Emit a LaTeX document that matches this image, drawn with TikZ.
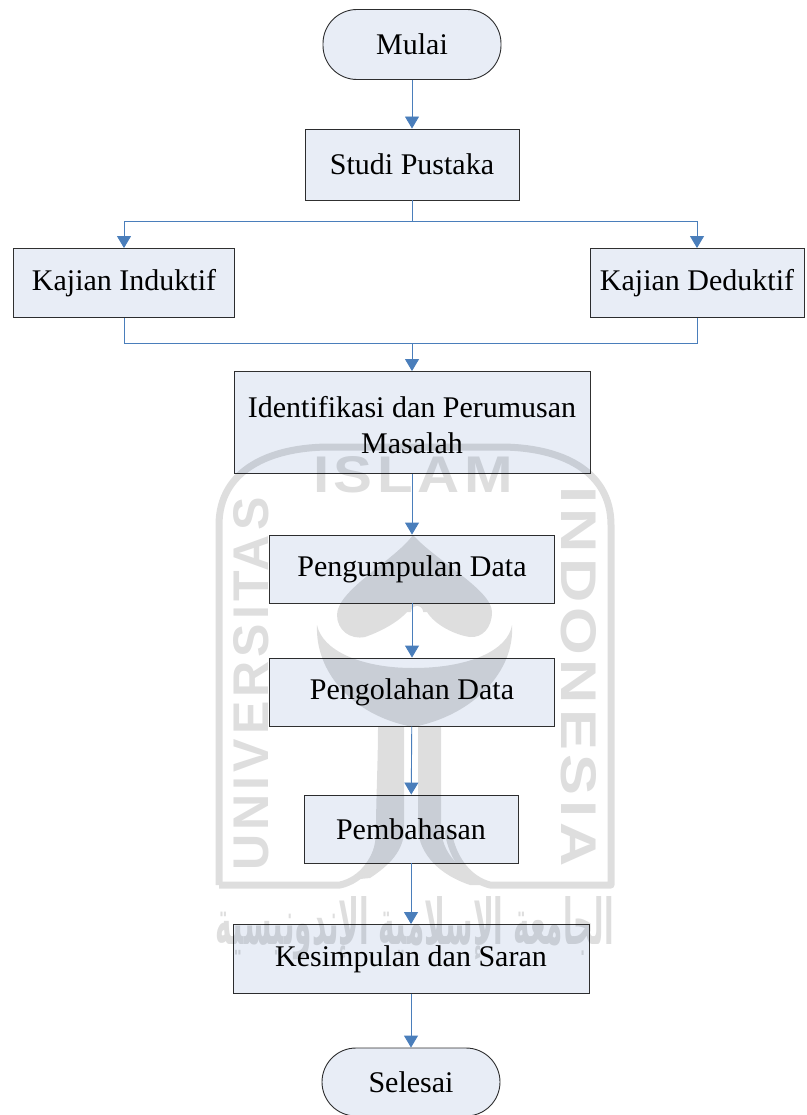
\documentclass[tikz,border=0pt]{standalone}
\usepackage{fontspec}
\usepackage{graphicx}
\setmainfont{Liberation Serif}
\newfontfamily\wmfont[LetterSpace=8]{Liberation Sans}
\newfontfamily\wmarabic[Script=Arabic]{DejaVu Sans}
\TeXXeTstate=1
\usetikzlibrary{arrows.meta,calc}
\definecolor{boxfill}{HTML}{E8EDF6}
\definecolor{linkblue}{HTML}{4A7EBB}
\definecolor{wm}{HTML}{DEDEDE}
\definecolor{edge}{HTML}{303030}
\tikzset{
  x=1pt,y=-1pt,
  box/.style={draw=edge,line width=0.9pt,fill=boxfill,align=center,font=\fontsize{30}{36}\selectfont,inner sep=0pt},
  term/.style={box,rounded corners=34pt},
  link/.style={draw=linkblue,line width=0.9pt},
  arr/.style={link,-{Triangle[length=12pt,width=14pt,fill=linkblue]}},
  wmline/.style={draw=wm,line width=7pt,line join=round},
  wmshape/.style={fill=wm,draw=none},
  wmtext/.style={text=wm,inner sep=0pt,font=\wmfont\bfseries\fontsize{50}{50}\selectfont}
}
\newcommand{\bx}[7]{\node[#1,minimum width=#4pt,minimum height=#5pt] (#2) at (#6,#7) {#3};}
\begin{document}
\begin{tikzpicture}
\useasboundingbox (0,0) rectangle (806,1115);
% watermark
\draw[wmline] (219,885) -- (219,525) .. controls (219,470) and (270,447) .. (330,447)
  -- (500,447) .. controls (560,447) and (611,470) .. (611,525) -- (611,885)
  -- (490,885) .. controls (470,880) and (452,860) .. (448,830);
\draw[wmline] (219,885) -- (340,885) .. controls (362,880) and (378,860) .. (382,830);
\fill[wmshape] (413,535) .. controls (395,560) and (337,590) .. (337,615)
  .. controls (337,630) and (350,640) .. (365,637) .. controls (385,630) and (400,620) .. (407,612)
  -- (427,612) .. controls (435,625) and (455,635) .. (470,637) .. controls (482,638) and (492,628) .. (492,612)
  .. controls (492,590) and (435,560) .. (413,535) -- cycle;
\fill[white] (417,612) circle (6pt);
\fill[wmshape] (317,625) .. controls (315,670) and (350,715) .. (413,727)
  .. controls (475,715) and (515,670) .. (512,625) .. controls (508,650) and (470,668) .. (413,668)
  .. controls (360,668) and (322,650) .. (317,625) -- cycle;
\fill[wmshape] (378,727) .. controls (378,760) and (376,800) .. (376,830) .. controls (376,855) and (365,870) .. (350,880)
  -- (370,878) .. controls (390,865) and (404,850) .. (404,830) -- (404,727) -- cycle;
\fill[wmshape] (418,727) -- (418,830) .. controls (420,855) and (440,875) .. (470,885)
  -- (490,885) .. controls (460,870) and (441,855) .. (441,825) -- (441,727) -- cycle;
\node[wmtext] (wmislam) at (413,475) {\resizebox{200pt}{36pt}{ISLAM}};
\node[wmtext,rotate=90] (wmuniv) at (251,684) {\resizebox{373pt}{35pt}{UNIVERSITAS}};
\node[wmtext,rotate=-90] (wmindo) at (579,677) {\resizebox{380pt}{35pt}{INDONESIA}};
\node[text=wm,inner sep=0pt] (wmar) at (415,928) {\resizebox{398pt}{48pt}{\wmarabic\bfseries\beginR الجامعة الإسلامية الإندونيسية\endR}};
% diagram
\begin{scope}[blend mode=multiply]
\bx{term}{mulai}{Mulai}{178}{70}{412}{44.5}
\bx{box}{studi}{Studi Pustaka}{214}{71}{412}{164.5}
\bx{box}{ind}{Kajian Induktif}{221}{69}{124}{283}
\bx{box}{ded}{Kajian Deduktif}{214}{69}{697}{283}
\bx{box}{iden}{\rule{0pt}{26pt}Identifikasi dan Perumusan\\Masalah}{356}{102}{412}{422.5}
\bx{box}{kumpul}{Pengumpulan Data}{285}{68}{412}{569}
\bx{box}{olah}{Pengolahan Data}{285}{68}{412}{692}
\bx{box}{bahas}{Pembahasan}{214}{68}{411}{829}
\bx{box}{simpul}{Kesimpulan dan Saran}{356}{69}{411}{959}
\bx{term}{selesai}{Selesai}{178}{68}{411}{1082}
\end{scope}
\coordinate (split) at (412,221);
\coordinate (merge) at (412,343);
\draw[arr] (mulai) -- (studi);
\draw[link] (studi) -- (split);
\draw[arr] (split) -| (ind);
\draw[arr] (split) -| (ded);
\draw[link] (ind) |- (merge);
\draw[link] (ded) |- (merge);
\draw[arr] (merge) -- (iden);
\draw[arr] (iden) -- (kumpul);
\draw[arr] (kumpul) -- (olah);
\draw[arr] (olah) -- (bahas);
\draw[arr] (bahas) -- (simpul);
\draw[arr] (simpul) -- (selesai);
\end{tikzpicture}
\end{document}
